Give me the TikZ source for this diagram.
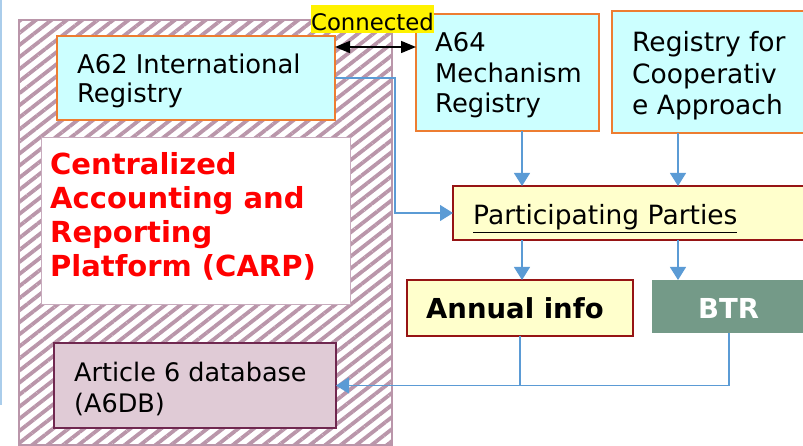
\documentclass[tikz,border=0pt]{standalone}
\usepackage{fontspec}
\setmainfont{DejaVu Sans}
\usetikzlibrary{arrows.meta,patterns.meta}
\definecolor{cyanf}{RGB}{204,255,255}
\definecolor{orangeb}{RGB}{237,125,49}
\definecolor{hatchc}{RGB}{186,150,170}
\definecolor{carpb}{RGB}{200,172,190}
\definecolor{yelf}{RGB}{255,255,204}
\definecolor{redb}{RGB}{150,20,20}
\definecolor{btrf}{RGB}{116,154,136}
\definecolor{a6f}{RGB}{224,203,214}
\definecolor{a6b}{RGB}{112,40,80}
\definecolor{connc}{RGB}{91,155,213}
\definecolor{leftblue}{RGB}{170,205,235}
\definecolor{carpred}{RGB}{255,0,0}
\begin{document}
\begin{tikzpicture}[x=1pt,y=-1pt,
  box/.style={anchor=north west, inner sep=0pt, outer sep=0pt},
  cyanbox/.style={box, draw=orangeb, line width=2pt, fill=cyanf},
  yelbox/.style={box, draw=redb, line width=2pt, fill=yelf},
  lbl/.style={anchor=base west, inner sep=0pt, align=left, font=\fontsize{25.8}{30.5}\selectfont},
  boldlbl/.style={anchor=base west, inner sep=0pt, font=\fontsize{27.5}{33}\selectfont\bfseries},
  conn/.style={draw=connc, line width=1.2pt, -{Triangle[width=16pt,length=13pt]}},
  line/.style={draw=connc, line width=1.2pt}
]
\useasboundingbox (0,0) rectangle (803,446);
\clip (0,0) rectangle (803,446);

% fragment at left edge
\draw[leftblue, line width=1.2pt] (1,0) -- (1,405);

% hatched CARP frame
\path[pattern={Lines[angle=38,distance=9.5pt,line width=3.8pt]}, pattern color=hatchc,
      draw=hatchc, line width=1.5pt] (19,20) rectangle (392,445);

% CARP white panel
\node[box, draw=carpb, line width=1pt, fill=white, minimum width=309pt, minimum height=167pt] (carpbox) at (41,138) {};
\node[anchor=base west, inner sep=0pt, align=left, text=carpred,
      font=\fontsize{29}{34}\selectfont\bfseries] (carptxt) at (50,277)
      {Centralized\\Accounting and\\Reporting\\Platform (CARP)};

% registries
\node[cyanbox, minimum width=278pt, minimum height=84pt] (a62) at (57,36) {};
\node[lbl, font=\fontsize{25.8}{29.5}\selectfont] (a62t) at (77,103) {A62 International\\Registry};

\node[cyanbox, minimum width=183pt, minimum height=117pt] (a64) at (416,14) {};
\node[lbl] (a64t) at (435,113) {A64\\Mechanism\\Registry};

\node[cyanbox, minimum width=230pt, minimum height=122pt] (rca) at (612,11) {};
\node[lbl, font=\fontsize{26.5}{31.5}\selectfont] (rcat) at (632,115) {Registry for\\Cooperativ\\e Approach};

% Connected label + double arrow
\node[box, fill=yellow, minimum width=123pt, minimum height=28pt] (conbox) at (311,5) {};
\node[anchor=base, inner sep=0pt, font=\fontsize{22.8}{26}\selectfont] (contxt) at (372.5,31) {Connected};
\coordinate (dy) at (0,47);
\draw[line width=1.5pt, {Triangle[width=12pt,length=15pt]}-{Triangle[width=12pt,length=15pt]}]
  (a62.east |- dy) -- (a64.west |- dy);

% Participating Parties
\node[yelbox, minimum width=360pt, minimum height=54pt] (pp) at (453,186) {};
\node[lbl, font=\fontsize{26.5}{30}\selectfont] (ppt) at (473,225) {\underline{Participating Parties}};

% Annual info / BTR
\node[yelbox, minimum width=226pt, minimum height=56pt] (ann) at (407,280) {};
\node[boldlbl] (annt) at (426,318) {Annual info};
\node[box, fill=btrf, minimum width=170pt, minimum height=53pt] (btr) at (652,280) {};
\node[boldlbl, text=white] (btrt) at (698,318) {BTR};

% A6DB
\node[box, draw=a6b, line width=1.5pt, fill=a6f, minimum width=282pt, minimum height=85pt] (a6db) at (54,343) {};
\node[lbl, font=\fontsize{25.5}{31}\selectfont] (a6t) at (74,412) {Article 6 database\\(A6DB)};

% connectors
\coordinate (xj) at (395,0);
\coordinate (xa) at (522,0);
\coordinate (xb) at (678,0);
\coordinate (xc) at (729,0);
\coordinate (xd) at (520,0);
\draw[conn] (a62.east) -- (a62.east -| xj) |- (pp.west);
\draw[conn] (a64.south -| xa) -- (pp.north -| xa);
\draw[conn] (rca.south -| xb) -- (pp.north -| xb);
\draw[conn] (pp.south -| xa) -- (ann.north -| xa);
\draw[conn] (pp.south -| xb) -- (btr.north -| xb);
\draw[line] (ann.south -| xd) -- (a6db.east -| xd);
\draw[conn] (btr.south -| xc) |- (a6db.east);
\end{tikzpicture}
\end{document}
